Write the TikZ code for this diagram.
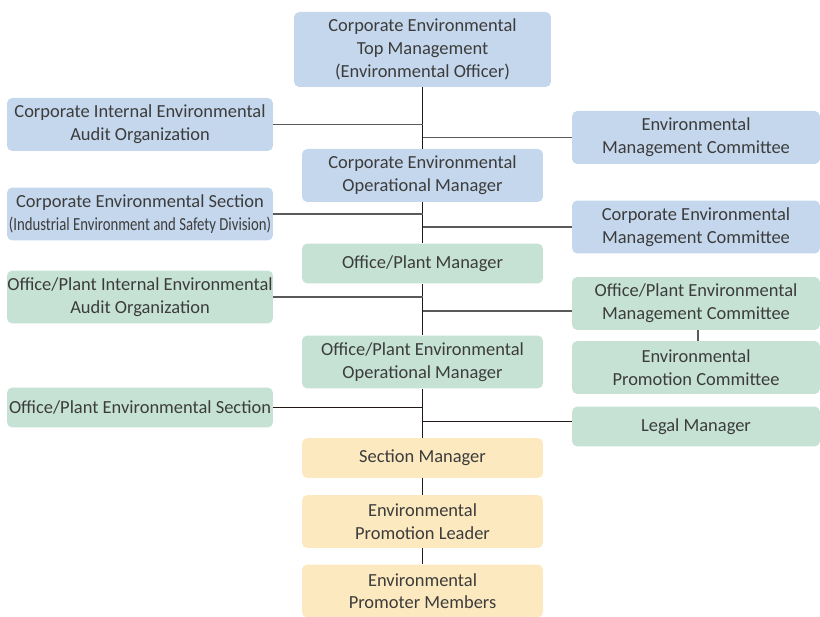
\documentclass[tikz,border=0pt]{standalone}
\usepackage{fontspec}
\setmainfont{Carlito}
\usepackage{tikz}
\usetikzlibrary{positioning}
\usepackage{xcolor}

\definecolor{boxblue}{HTML}{C5D7EC}
\definecolor{boxgreen}{HTML}{C6E2D5}
\definecolor{boxyellow}{HTML}{FCE9BF}
\definecolor{inkgray}{HTML}{3C3C3C}
\definecolor{linegray}{HTML}{5A5A5A}
\definecolor{trunkblack}{HTML}{231815}

\tikzset{
  unit/.style={rounded corners=3pt, inner sep=0pt, align=center,
    text=inkgray, font=\fontsize{10.5}{12.9}\selectfont},
  blue/.style={unit, fill=boxblue},
  green/.style={unit, fill=boxgreen},
  yellow/.style={unit, fill=boxyellow},
  mid/.style={minimum width=4.82cm},
  left/.style={minimum width=5.32cm},
  right/.style={minimum width=4.96cm},
  two/.style={minimum height=1.06cm},
  one/.style={minimum height=0.8cm},
  link/.style={draw=linegray, line width=0.7pt},
  trunk/.style={draw=trunkblack, line width=0.7pt}
}

\begin{document}
\begin{tikzpicture}[x=0.02cm,y=-0.02cm]
\useasboundingbox (0,0) rectangle (820,617);

% centre column
\node[blue, minimum width=5.14cm, minimum height=1.5cm] (top) at (422.5,49.5)
  {Corporate Environmental\\Top Management\\(Environmental Officer)};
\node[blue, mid, two] (ceom) at (422.5,175.5)
  {Corporate Environmental\\Operational Manager};
\node[green, mid, one] (opm) at (422.5,263.5) {Office/Plant Manager};
\node[green, mid, two] (opeom) at (422.5,362)
  {Office/Plant Environmental\\Operational Manager};
\node[yellow, mid, one] (sm) at (422.5,458) {Section Manager};
\node[yellow, mid, two] (epl) at (422.5,521.5)
  {Environmental\\Promotion Leader};
\node[yellow, mid, two] (epm) at (422.5,591)
  {Environmental\\Promoter Members};

% left column
\node[blue, left, two] (ciao) at (140,124.5)
  {Corporate Internal Environmental\\Audit Organization};
\node[blue, left, two] (ces) at (140,214)
  {Corporate Environmental Section\\\scalebox{.8}[1]{(Industrial Environment and Safety Division)}};
\node[green, left, two] (opiao) at (140,297)
  {Office/Plant Internal Environmental\\Audit Organization};
\node[green, left, one] (opes) at (140,407.5)
  {Office/Plant Environmental Section};

% right column
\node[blue, right, two] (emc) at (696,137.5)
  {Environmental\\Management Committee};
\node[blue, right, two] (cemc) at (696,227)
  {Corporate Environmental\\Management Committee};
\node[green, right, two] (opemc) at (696,303.5)
  {Office/Plant Environmental\\Management Committee};
\node[green, right, two] (epc) at (696,367.5)
  {Environmental\\Promotion Committee};
\node[green, right, one] (lm) at (696,426.5) {Legal Manager};

% trunk
\draw[trunk] (top.south) -- (ceom.north);
\draw[trunk] (ceom.south) -- (opm.north);
\draw[trunk] (opm.south) -- (opeom.north);
\draw[trunk] (opeom.south) -- (sm.north);
\draw[trunk] (sm.south) -- (epl.north);
\draw[trunk] (epl.south) -- (epm.north);

% side links
\draw[link] (ciao.east) -- (ciao.east -| top.south);
\draw[link] (emc.west) -- (emc.west -| top.south);
\draw[link] (ces.east) -- (ces.east -| top.south);
\draw[link] (cemc.west) -- (cemc.west -| top.south);
\draw[link] (opiao.east) -- (opiao.east -| top.south);
\draw[link] ([yshift=-0.15cm]opemc.west) -- ([yshift=-0.15cm]opemc.west -| top.south);
\draw[link] (opemc.south -| 698,0) -- (epc.north -| 698,0);
\draw[trunk] (opes.east) -- (opes.east -| top.south);
\draw[trunk] ([yshift=0.1cm]lm.west) -- ([yshift=0.1cm]lm.west -| top.south);

\end{tikzpicture}
\end{document}
